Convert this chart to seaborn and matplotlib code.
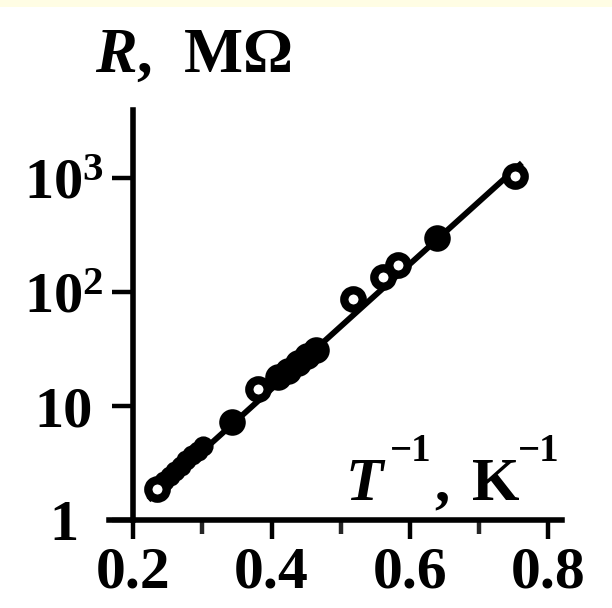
import matplotlib
matplotlib.use("Agg")
import matplotlib.pyplot as plt
import seaborn as sns
import pandas as pd
from matplotlib.patches import Rectangle
from matplotlib.ticker import FixedLocator, LogLocator, NullFormatter

# ---- data ----
open_x = [0.235, 0.381, 0.518, 0.561, 0.583, 0.752]
open_R = [1.87, 14.2, 87, 135, 172, 1050]

filled_x = [0.343, 0.410, 0.424, 0.438, 0.452, 0.464, 0.639]
filled_R = [7.3, 18, 20.5, 24, 27.5, 31, 300]

cluster_x = [0.245, 0.253, 0.261, 0.269, 0.277, 0.285, 0.293, 0.301]
cluster_R = [2.2, 2.45, 2.7, 3.0, 3.35, 3.7, 4.05, 4.45]

fit_x = [0.222, 0.762]
fit_R = [1.5, 1365]

x_ticks = [0.2, 0.4, 0.6, 0.8]
x_tick_labels = ["0.2", "0.4", "0.6", "0.8"]
x_minor = [0.3, 0.5, 0.7]
y_ticks = [1, 10, 100, 1000]
y_tick_labels = ["1", "10", "$10^2$", "$10^3$"]

y_label = "$R$,  MΩ"
x_label_parts = ["T", "\u22121", ",", "K", "\u22121"]

# ---- style ----
sns.set_style("ticks")
plt.rcParams["font.family"] = ["Liberation Serif", "DejaVu Serif"]
plt.rcParams["font.weight"] = "bold"
plt.rcParams["mathtext.fontset"] = "custom"
plt.rcParams["mathtext.rm"] = "Liberation Serif:bold"
plt.rcParams["mathtext.it"] = "Liberation Serif:italic:bold"
plt.rcParams["mathtext.bf"] = "Liberation Serif:bold"

fig = plt.figure(figsize=(6.12, 6.08), dpi=100)
fig.patch.set_facecolor("white")
# cream scan border at the top
fig.add_artist(Rectangle((0, 1 - 7 / 608), 1, 7 / 608, transform=fig.transFigure,
                         facecolor="#FFFDE4", edgecolor="none", zorder=0))

ax = fig.add_axes([109 / 612, 88 / 608, (562 - 109) / 612, (520 - 110) / 608])
ax.set_facecolor("none")

df_fit = pd.DataFrame({"x": fit_x, "R": fit_R})
df_open = pd.DataFrame({"x": open_x, "R": open_R})
df_fill = pd.DataFrame({"x": filled_x, "R": filled_R})
df_cl = pd.DataFrame({"x": cluster_x, "R": cluster_R})

sns.lineplot(data=df_fit, x="x", y="R", ax=ax, color="black", linewidth=4.2,
             zorder=2, solid_capstyle="butt")
sns.scatterplot(data=df_cl, x="x", y="R", ax=ax, color="black", s=170,
                edgecolor="black", linewidth=1.5, zorder=3)
sns.scatterplot(data=df_fill, x="x", y="R", ax=ax, color="black", s=300,
                edgecolor="black", linewidth=1.8, zorder=3)
sns.scatterplot(data=df_open, x="x", y="R", ax=ax, color="white", s=175,
                edgecolor="black", linewidth=6.0, zorder=4)

ax.set_yscale("log")
ax.set_xlim(0.165, 0.82)
ax.set_ylim(1, 10 ** 3.6)
ax.set_xlabel("")
ax.set_ylabel("")

for s in ["top", "right"]:
    ax.spines[s].set_visible(False)
ax.spines["left"].set_position(("data", 0.2))
for s in ["left", "bottom"]:
    ax.spines[s].set_linewidth(4.0)
    ax.spines[s].set_color("black")

ax.xaxis.set_major_locator(FixedLocator(x_ticks))
ax.xaxis.set_minor_locator(FixedLocator(x_minor))
ax.set_xticklabels(x_tick_labels)
ax.yaxis.set_major_locator(FixedLocator(y_ticks))
ax.yaxis.set_minor_locator(LogLocator(base=10, subs=range(2, 10)))
ax.yaxis.set_minor_formatter(NullFormatter())
ax.set_yticklabels(y_tick_labels)

ax.tick_params(axis="x", which="major", length=14, width=3.2, direction="out",
               pad=5, labelsize=43, colors="black")
ax.tick_params(axis="x", which="minor", length=10, width=3.2, direction="out")
ax.tick_params(axis="y", which="major", length=15, width=3.2, direction="out",
               pad=35, labelsize=42, colors="black")
ax.tick_params(axis="y", which="minor", length=9, width=2.8, direction="out")
for lab in ax.get_yticklabels():
    lab.set_horizontalalignment("center")

fig.text(95 / 612, 1 - 72 / 608, y_label, fontsize=45, ha="left", va="baseline",
         color="black")

# x-axis label  T^-1, K^-1  (superscripts raised as in the scan)
H = 608.0
fig.text(346 / 612, 1 - 500 / H, x_label_parts[0], fontsize=44, style="italic",
         ha="left", va="baseline", color="black")
fig.text(390 / 612, 1 - 461 / H, x_label_parts[1], fontsize=28,
         ha="left", va="baseline", color="black")
fig.text(434 / 612, 1 - 500 / H, x_label_parts[2], fontsize=44,
         ha="left", va="baseline", color="black")
fig.text(472 / 612, 1 - 500 / H, x_label_parts[3], fontsize=44,
         ha="left", va="baseline", color="black")
fig.text(518 / 612, 1 - 461 / H, x_label_parts[4], fontsize=28,
         ha="left", va="baseline", color="black")

fig.savefig("out.png", dpi=100, facecolor=fig.get_facecolor())
